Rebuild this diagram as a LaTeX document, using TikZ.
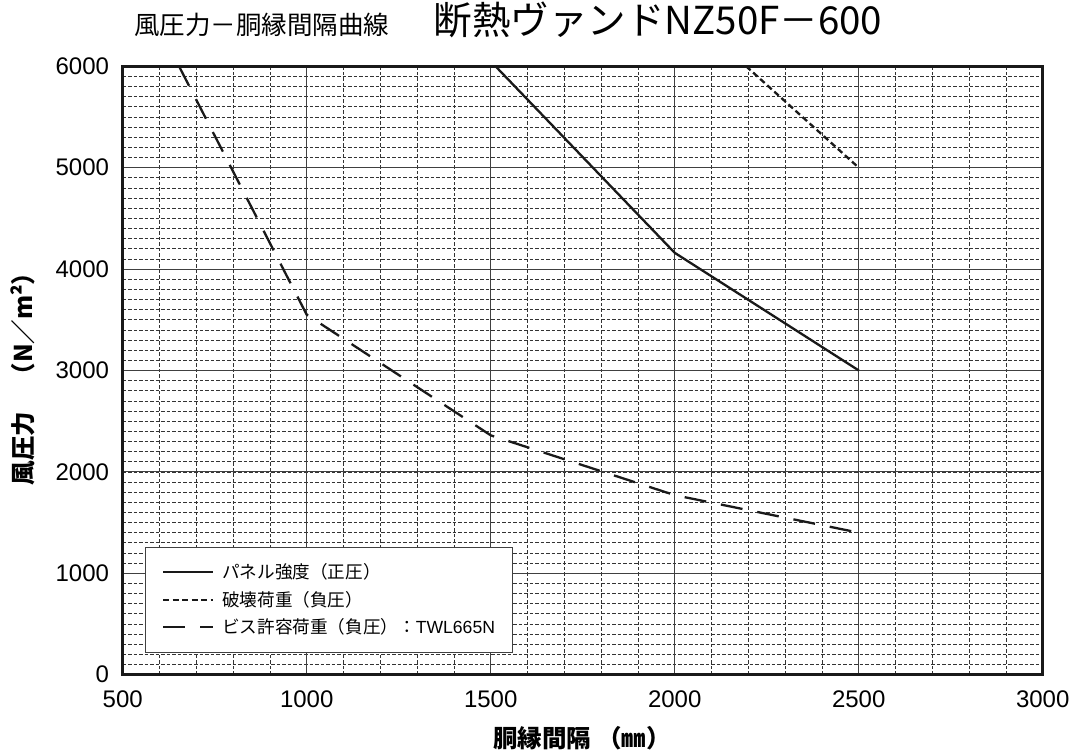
\documentclass[tikz,border=0pt]{standalone}
\usepackage{fontspec}
\setmainfont{Liberation Sans}
\newfontfamily\jp{Noto Sans CJK JP}
\usetikzlibrary{positioning}

\begin{document}
\begin{tikzpicture}[x=1pt, y=1pt,
	ttl/.style      = {inner sep=0pt, font=\jp\fontsize{25.5}{30}\selectfont},
	bigttl/.style   = {inner sep=0pt, font=\jp\fontsize{38.5}{44}\selectfont},
	axlab/.style    = {inner sep=0pt, font=\jp\bfseries\fontsize{24.5}{30}\selectfont},
	ticklab/.style  = {inner sep=0pt, font=\fontsize{24}{28}\selectfont},
	gridmajor/.style = {draw=black!75, line width=0.9pt},
	gridminor/.style = {draw=black!80, line width=0.6pt, dash pattern=on 3.5pt off 2pt},
	plotframe/.style = {draw=black!90, line width=2.6pt},
	panelline/.style = {draw=black!90, line width=2.3pt},
	breakline/.style = {panelline, dash pattern=on 6pt off 3.5pt},
	screwline/.style = {panelline, dash pattern=on 22pt off 15pt},
	legbox/.style   = {draw=black!75, fill=white, line width=0.9pt, inner sep=0pt},
	legtext/.style  = {inner sep=0pt, anchor=west, font=\jp\fontsize{17.6}{20}\selectfont}]
	
	\useasboundingbox (0,0) rectangle (1079,753);
	
	% titles
	\node[ttl, anchor=base west] (t1) at (134,718) {風圧力－胴縁間隔曲線};
	\node[bigttl, base right=44pt of t1] (t2) {断熱ヴァンドNZ50F－600};
	
	% the plot, in data units
	\begin{scope}[shift={(-61.3pt,78.4pt)}, x=0.368pt, y=0.1014pt]
	\foreach \v in {600,700,...,2900}
	\draw[gridminor] (\v,0) -- (\v,6000);
	\foreach \v in {100,200,...,5900}
	\draw[gridminor] (500,\v) -- (3000,\v);
	\foreach \v in {1000,1500,2000,2500}
	\draw[gridmajor] (\v,0) -- (\v,6000);
	\foreach \v in {1000,2000,...,5000}
	\draw[gridmajor] (500,\v) -- (3000,\v);
	
	% curves
	\draw[panelline] (1513,6000) -- (2000,4160) -- (2500,3000);
	\draw[breakline] (2194,6000) -- (2500,5000);
	\draw[screwline] (653,6000) -- (1000,3550) -- (1500,2360) -- (2000,1770) -- (2500,1400);
	
	\draw[plotframe] (500,0) rectangle (3000,6000);
	
	% tick labels
	\foreach \v in {500,1000,...,3000}
	\node[ticklab, yshift=-24.4pt] (x\v) at (\v,0) {\v};
	\foreach \v in {0,1000,...,6000}
	\node[ticklab, anchor=east, xshift=-13.5pt] (y\v) at (500,\v) {\v};
	\end{scope}
	
	% axis labels
	\node[axlab] (xlab) at (582,15) {胴縁間隔 （㎜）};
	\node[axlab, rotate=90] (ylab) at (23,380) {風圧力　（N／m²）};
	
	% legend
	\node[legbox, minimum width=366.7pt, minimum height=105pt, anchor=north west] (leg) at (145,206.3) {};
	\node[legtext] (l1) at (222,181.3) {パネル強度（正圧）};
	\node[legtext] (l2) at (222,153) {破壊荷重（負圧）};
	\node[legtext] (l3) at (222,125.7) {ビス許容荷重（負圧）：{\rmfamily TWL665N}};
	\foreach \i/\s in {1/panelline,2/breakline,3/screwline}{
		\coordinate[left=9pt of l\i.west] (b\i);
		\coordinate[left=59pt of l\i.west] (a\i);
		\draw[\s] (a\i) -- (b\i);
	}
\end{tikzpicture}
\end{document}
